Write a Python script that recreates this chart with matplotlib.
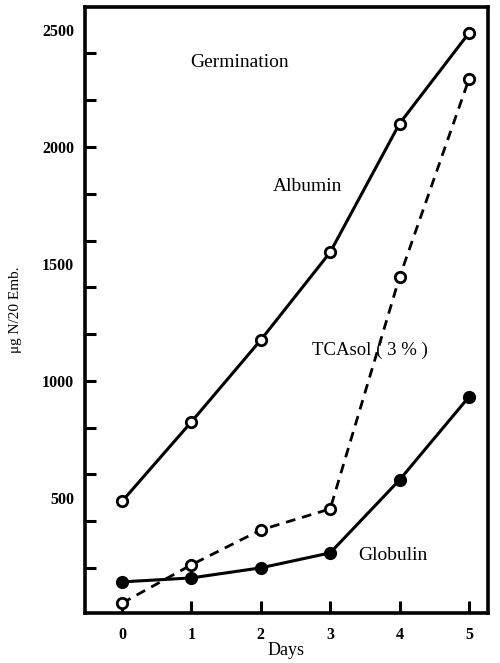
import matplotlib
matplotlib.use("Agg")
import matplotlib.pyplot as plt
from matplotlib.ticker import MultipleLocator, FixedLocator

days = [0, 1, 2, 3, 4, 5]
albumin = [485, 825, 1175, 1550, 2100, 2487]
tca_sol = [50, 214, 363, 453, 1444, 2290]
globulin = [141, 158, 201, 265, 577, 932]

x_tick_labels = ["0", "1", "2", "3", "4", "5"]
y_tick_values = [500, 1000, 1500, 2000, 2500]

plt.rcParams['font.family'] = ['Liberation Serif', 'DejaVu Serif']

fig = plt.figure(figsize=(5.0, 6.63), dpi=100)
ax = fig.add_axes([0.17, 0.0754, 0.806, 0.914])

lw = 2.2
ax.plot(days, albumin, color='black', lw=lw, marker='o', ms=7.5,
        mfc='white', mec='black', mew=2.0, zorder=3)
ax.plot(days, tca_sol, color='black', lw=2.0, ls=(0, (3.5, 2.5)), marker='o', ms=7.5,
        mfc='white', mec='black', mew=2.0, zorder=3)
ax.plot(days, globulin, color='black', lw=lw, marker='o', ms=8,
        mfc='black', mec='black', mew=1.5, zorder=3)

ax.set_xlim(-0.533, 5.274)
ax.set_ylim(8, 2598)

for s in ax.spines.values():
    s.set_linewidth(2.6)

ax.set_xticks(days)
ax.set_xticklabels(x_tick_labels, fontweight='bold', fontsize=11.5)
ax.tick_params(axis='x', direction='in', length=9, width=2.2, pad=10)

ax.yaxis.set_major_locator(FixedLocator(y_tick_values))
ax.yaxis.set_minor_locator(MultipleLocator(200))
ax.yaxis.remove_overlapping_locs = False
ax.set_yticklabels([str(v) for v in y_tick_values], fontweight='bold', fontsize=11.5)
ax.tick_params(axis='y', which='major', length=0, pad=8)
ax.tick_params(axis='y', which='minor', direction='in', length=8, width=2.2)

ax.set_xlabel("Days", fontsize=13, labelpad=-1)
ax.set_ylabel("\u03bcg N/20 Emb.", fontsize=11, labelpad=14)

ax.text(1.69, 2359, "Germination", fontsize=14, ha='center', va='center')
ax.text(2.67, 1833, "Albumin", fontsize=14, ha='center', va='center')
ax.text(2.74, 1132, "TCAsol ( 3 % )", fontsize=13.5, ha='left', va='center')
ax.text(3.90, 252, "Globulin", fontsize=14, ha='center', va='center')

fig.savefig("out.png", dpi=100)
